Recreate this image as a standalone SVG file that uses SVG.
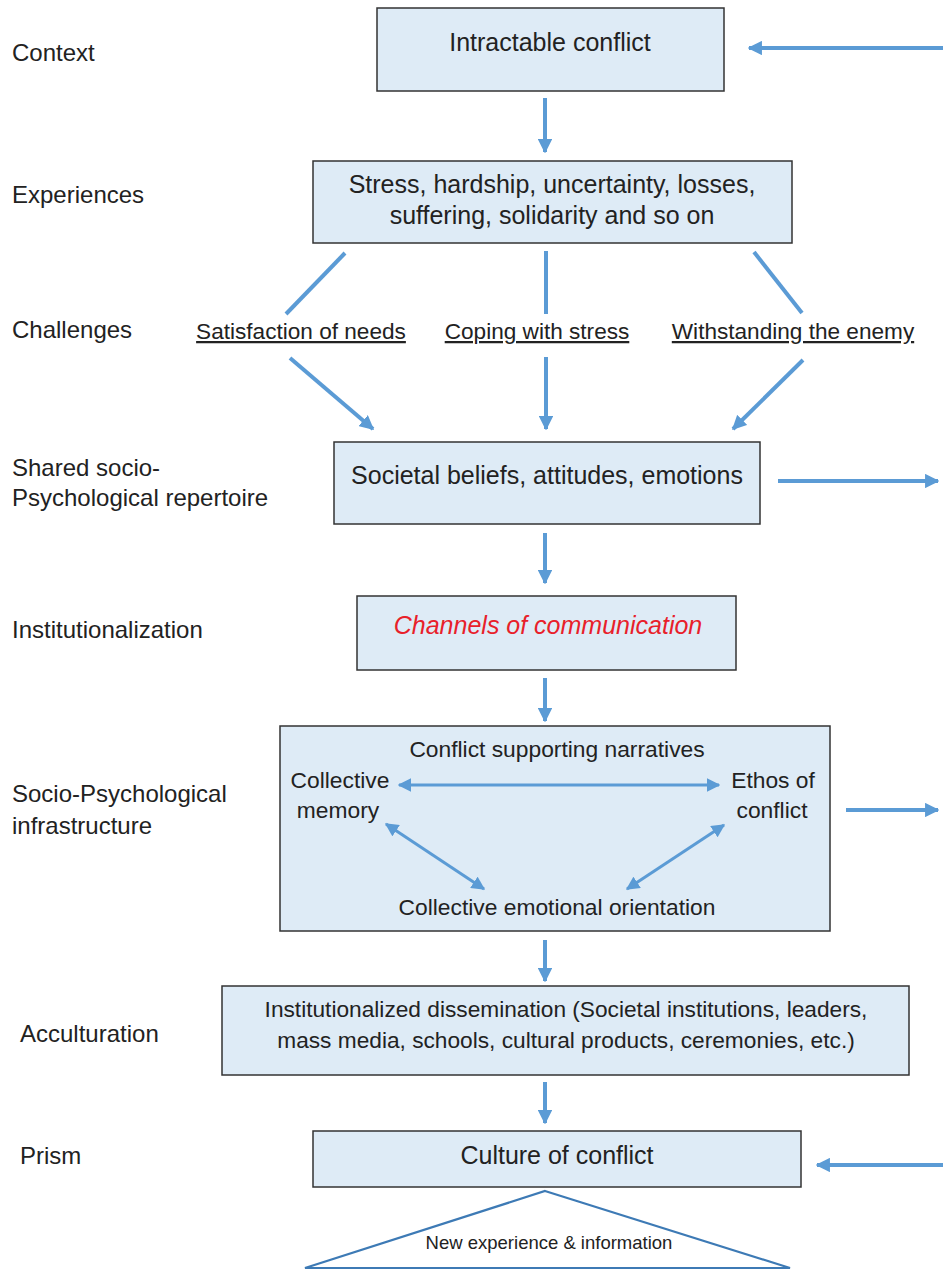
<svg xmlns="http://www.w3.org/2000/svg" width="943" height="1270" viewBox="0 0 943 1270">
<defs>
<marker id="ah" viewBox="0 0 10 10" refX="9" refY="5" markerWidth="3.6" markerHeight="3.6" orient="auto-start-reverse" markerUnits="strokeWidth">
<path d="M0,0 L10,5 L0,10 Z" fill="#5b9bd5"/>
</marker>
<marker id="ah2" viewBox="0 0 10 10" refX="9" refY="5" markerWidth="4.5" markerHeight="4.5" orient="auto-start-reverse" markerUnits="strokeWidth">
<path d="M0,0 L10,5 L0,10 Z" fill="#5b9bd5"/>
</marker>
<style>
.box{fill:#deebf6;stroke:#333;stroke-width:1.5}
.t{font-family:"Liberation Sans",Arial,sans-serif;font-size:25px;fill:#222}
.s{font-size:22.8px}
.m{font-size:22.7px}
.c{text-anchor:middle}
.lbl{font-family:"Liberation Sans",Arial,sans-serif;font-size:24px;fill:#222}
.u{text-decoration:underline;font-size:22.6px}
.con{stroke:#5b9bd5;stroke-width:4;fill:none}
.con2{stroke:#5b9bd5;stroke-width:3;fill:none}
</style>
</defs>
<rect width="943" height="1270" fill="#fff"/>
<g id="labels">
<text class="lbl" x="12" y="61">Context</text>
<text class="lbl" x="12" y="203">Experiences</text>
<text class="lbl" x="12" y="338">Challenges</text>
<text class="lbl" x="12" y="476">Shared socio-</text>
<text class="lbl" x="12" y="506">Psychological repertoire</text>
<text class="lbl" x="12" y="638">Institutionalization</text>
<text class="lbl" x="12" y="802">Socio-Psychological</text>
<text class="lbl" x="12" y="834">infrastructure</text>
<text class="lbl" x="20" y="1042">Acculturation</text>
<text class="lbl" x="20" y="1164">Prism</text>
</g>
<g id="n1"><rect class="box" x="377" y="8" width="347" height="83"/><text class="t c" x="550" y="51">Intractable conflict</text></g>
<g id="n2"><rect class="box" x="313" y="161" width="479" height="82"/><text class="t c" x="552" y="193">Stress, hardship, uncertainty, losses,</text><text class="t c" x="552" y="224">suffering, solidarity and so on</text></g>
<g id="c1"><text class="t c u" x="301" y="339">Satisfaction of needs</text></g>
<g id="c2"><text class="t c u" x="537" y="339">Coping with stress</text></g>
<g id="c3"><text class="t c u" x="793" y="339">Withstanding the enemy</text></g>
<g id="n3"><rect class="box" x="334" y="442" width="426" height="82"/><text class="t c" x="547" y="484">Societal beliefs, attitudes, emotions</text></g>
<g id="n4"><rect class="box" x="357" y="596" width="379" height="74"/><text class="t c" x="548" y="634" style="fill:#e8202a;font-style:italic">Channels of communication</text></g>
<g id="n5"><rect class="box" x="280" y="726" width="550" height="205"/>
<text class="t c s" x="557" y="757">Conflict supporting narratives</text>
<text class="t c s" x="340" y="788">Collective</text>
<text class="t c s" x="338" y="818">memory</text>
<text class="t c s" x="773" y="788">Ethos of</text>
<text class="t c s" x="772" y="818">conflict</text>
<text class="t c s" x="557" y="915">Collective emotional orientation</text>
</g>
<g id="n6"><rect class="box" x="222" y="986" width="687" height="89"/><text class="t c m" x="566" y="1017">Institutionalized dissemination (Societal institutions, leaders,</text><text class="t c m" x="566" y="1048">mass media, schools, cultural products, ceremonies, etc.)</text></g>
<g id="n7"><rect class="box" x="313" y="1131" width="488" height="56"/><text class="t c" x="557" y="1164">Culture of conflict</text></g>
<g id="n8"><path d="M545,1191 L790,1268 L305,1268 Z" fill="#fff" stroke="#3d7ab5" stroke-width="2.2"/><text x="549" y="1249" text-anchor="middle" style="font-family:'Liberation Sans',Arial,sans-serif;font-size:18.5px;fill:#222">New experience &amp; information</text></g>
<g id="connectors">
<line class="con" x1="943" y1="48" x2="749" y2="48" marker-end="url(#ah)"/>
<line class="con" x1="545" y1="98" x2="545" y2="152" marker-end="url(#ah)"/>
<line class="con" x1="345" y1="253" x2="286" y2="314"/>
<line class="con" x1="546" y1="251" x2="546" y2="314"/>
<line class="con" x1="754" y1="252" x2="802" y2="313"/>
<line class="con" x1="290" y1="358" x2="373" y2="429" marker-end="url(#ah)"/>
<line class="con" x1="546" y1="357" x2="546" y2="429" marker-end="url(#ah)"/>
<line class="con" x1="803" y1="360" x2="733" y2="429" marker-end="url(#ah)"/>
<line class="con" x1="778" y1="481" x2="938" y2="481" marker-end="url(#ah)"/>
<line class="con" x1="545" y1="533" x2="545" y2="583" marker-end="url(#ah)"/>
<line class="con" x1="545" y1="678" x2="545" y2="721" marker-end="url(#ah)"/>
<line class="con2" x1="399" y1="785" x2="719" y2="785" marker-start="url(#ah2)" marker-end="url(#ah2)"/>
<line class="con2" x1="386" y1="824" x2="484" y2="889" marker-start="url(#ah2)" marker-end="url(#ah2)"/>
<line class="con2" x1="724" y1="825" x2="627" y2="889" marker-start="url(#ah2)" marker-end="url(#ah2)"/>
<line class="con" x1="846" y1="810" x2="938" y2="810" marker-end="url(#ah)"/>
<line class="con" x1="545" y1="940" x2="545" y2="981" marker-end="url(#ah)"/>
<line class="con" x1="545" y1="1082" x2="545" y2="1123" marker-end="url(#ah)"/>
<line class="con" x1="943" y1="1165" x2="817" y2="1165" marker-end="url(#ah)"/>
</g>
</svg>
